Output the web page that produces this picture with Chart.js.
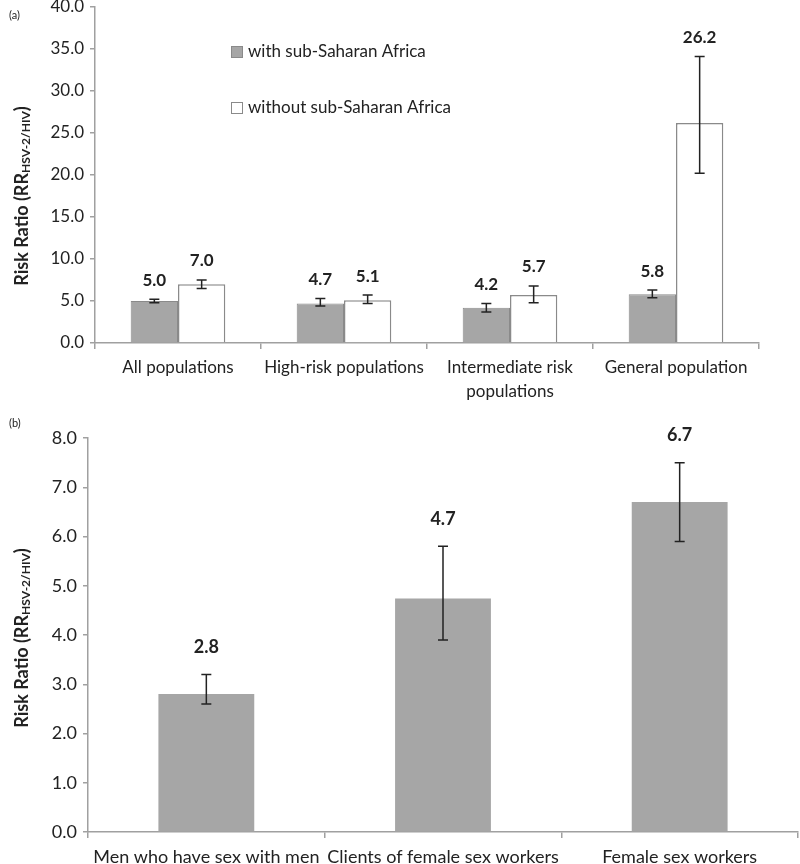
<!DOCTYPE html>
<html>
<head>
<meta charset="utf-8">
<script src="https://cdn.jsdelivr.net/npm/chart.js@4.4.1/dist/chart.umd.min.js"></script>
<style>
  body { margin: 0; background: #fff; }
  #wrap { position: relative; width: 800px; height: 864px; overflow: hidden; font-family: Lato, "Open Sans", sans-serif; }
  .box { position: absolute; left: 0; width: 800px; }
  #boxA { top: 0; height: 420px; }
  #boxB { top: 420px; height: 444px; }
  .tag { position: absolute; left: 9px; font-size: 11px; color: #222; }
</style>
</head>
<body>
<div id="wrap">
  <div class="box" id="boxA"><canvas id="chartA"></canvas></div>
  <div class="box" id="boxB"><canvas id="chartB"></canvas></div>
  <div class="tag" style="top:8px">(a)</div>
  <div class="tag" style="top:416px">(b)</div>
</div>
<script>
// panel (a)
const groupsA = [["All populations"], ["High-risk populations"], ["Intermediate risk", "populations"], ["General population"]];
const withSSA = [5.0, 4.7, 4.2, 5.8];
const withSSALow = [4.8, 4.4, 3.7, 5.4];
const withSSAHigh = [5.2, 5.3, 4.7, 6.3];
const withoutSSA = [7.0, 5.1, 5.7, 26.2];
const withoutSSALow = [6.5, 4.7, 4.8, 20.2];
const withoutSSAHigh = [7.5, 5.7, 6.8, 34.1];
const seriesNamesA = ["with sub-Saharan Africa", "without sub-Saharan Africa"];

// panel (b)
const groupsB = ["Men who have sex with men", "Clients of female sex workers", "Female sex workers"];
const keyPop = [2.8, 4.74, 6.7];
const keyPopLow = [2.6, 3.9, 5.9];
const keyPopHigh = [3.2, 5.8, 7.5];

const FONT = "Lato, 'Open Sans', sans-serif";
const AXIS = "#a0a0a0";
const TXT = "#222";

const errorBars = {
  id: "errorBars",
  afterDatasetsDraw(chart, args, opts) {
    const ctx = chart.ctx;
    const y = chart.scales.y;
    chart.data.datasets.forEach((ds, i) => {
      chart.getDatasetMeta(i).data.forEach((bar, j) => {
        const lo = y.getPixelForValue(ds.low[j]);
        const hi = y.getPixelForValue(ds.high[j]);
        ctx.save();
        ctx.strokeStyle = TXT;
        ctx.lineWidth = 1.5;
        ctx.beginPath();
        ctx.moveTo(bar.x, lo); ctx.lineTo(bar.x, hi);
        ctx.moveTo(bar.x - 5, lo); ctx.lineTo(bar.x + 5, lo);
        ctx.moveTo(bar.x - 5, hi); ctx.lineTo(bar.x + 5, hi);
        ctx.stroke();
        ctx.fillStyle = TXT;
        ctx.font = "bold " + opts.size + "px " + FONT;
        ctx.textAlign = "center";
        ctx.textBaseline = "middle";
        ctx.fillText(ds.data[j].toFixed(1), bar.x, hi - opts.gap);
        ctx.restore();
      });
    });
  }
};

const yTitle = {
  id: "yTitle",
  afterDraw(chart, args, opts) {
    const ctx = chart.ctx;
    ctx.save();
    ctx.translate(22, opts.cy);
    ctx.rotate(-Math.PI / 2);
    ctx.fillStyle = TXT;
    ctx.textBaseline = "middle";
    const parts = [["Risk Ratio (RR", 18, 0], ["HSV-2/HIV", 12, 4], [")", 18, 0]];
    let w = 0;
    parts.forEach(p => { ctx.font = "bold " + p[1] + "px " + FONT; w += ctx.measureText(p[0]).width; });
    let x = -w / 2;
    parts.forEach(p => {
      ctx.font = "bold " + p[1] + "px " + FONT;
      ctx.textAlign = "left";
      ctx.fillText(p[0], x, p[2]);
      x += ctx.measureText(p[0]).width;
    });
    ctx.restore();
  }
};

const boxLegend = {
  id: "boxLegend",
  afterDraw(chart) {
    if (!chart.options.plugins.boxLegend.show) return;
    const ctx = chart.ctx;
    const a = chart.chartArea;
    chart.data.datasets.forEach((ds, i) => {
      const x = a.left + 136, y = a.top + 45 + i * 56;
      ctx.save();
      ctx.fillStyle = ds.backgroundColor;
      ctx.strokeStyle = ds.borderColor;
      ctx.lineWidth = 1;
      ctx.fillRect(x, y - 6, 12, 12);
      ctx.strokeRect(x + 0.5, y - 5.5, 11, 11);
      ctx.fillStyle = TXT;
      ctx.font = "17px " + FONT;
      ctx.textBaseline = "middle";
      ctx.fillText(ds.label, x + 17, y);
      ctx.restore();
    });
  }
};

function makeChart(id, labels, datasets, o) {
  return new Chart(document.getElementById(id), {
    type: "bar",
    data: { labels, datasets },
    plugins: [errorBars, yTitle, boxLegend],
    options: {
      responsive: true,
      maintainAspectRatio: false,
      animation: false,
      layout: { padding: { left: 0, right: o.right, top: o.top, bottom: 0 } },
      plugins: {
        legend: { display: false },
        tooltip: { enabled: false },
        errorBars: { gap: o.gap, size: o.vsize },
        yTitle: { cy: o.titleY },
        boxLegend: { show: o.legend }
      },
      datasets: { bar: { categoryPercentage: o.cat, barPercentage: 1 } },
      scales: {
        x: {
          grid: { display: true, drawOnChartArea: false, color: AXIS, lineWidth: 1.5, tickLength: 6, offset: true },
          border: { color: AXIS, width: 1.5 },
          ticks: { color: TXT, padding: o.xpad, maxRotation: 0, autoSkip: false, font: { family: FONT, size: o.size, lineHeight: o.lh } },
          afterFit(s) { s.height = o.xh; }
        },
        y: {
          min: 0, max: o.max,
          grid: { display: true, drawOnChartArea: false, color: AXIS, lineWidth: 1.5, tickLength: 5 },
          border: { color: AXIS, width: 1.5 },
          ticks: { stepSize: o.step, color: TXT, padding: 6, font: { family: FONT, size: o.size, lineHeight: 0.9 }, callback: v => v.toFixed(1) },
          afterFit(s) { s.width = o.yw; s.paddingTop = 0; s.paddingBottom = 0; }
        }
      }
    }
  });
}

makeChart("chartA", groupsA, [
  { label: seriesNamesA[0], data: withSSA, low: withSSALow, high: withSSAHigh, backgroundColor: "#a6a6a6", borderColor: "#8a8a8a", borderWidth: 1 },
  { label: seriesNamesA[1], data: withoutSSA, low: withoutSSALow, high: withoutSSAHigh, backgroundColor: "#ffffff", borderColor: "#8a8a8a", borderWidth: 1.5 }
], { top: 7, right: 41, gap: 19, size: 17, vsize: 17, titleY: 196, legend: true, cat: 0.57, xpad: 6, lh: 1.45, xh: 77, max: 40, step: 5, yw: 95 });

makeChart("chartB", groupsB, [
  { label: "Key populations", data: keyPop, low: keyPopLow, high: keyPopHigh, backgroundColor: "#a6a6a6", borderWidth: 0 }
], { top: 18, right: 2, gap: 27, size: 18, vsize: 18, titleY: 218, legend: false, cat: 0.405, xpad: 8, lh: 1.2, xh: 32, max: 8, step: 1, yw: 88 });
</script>
</body>
</html>
